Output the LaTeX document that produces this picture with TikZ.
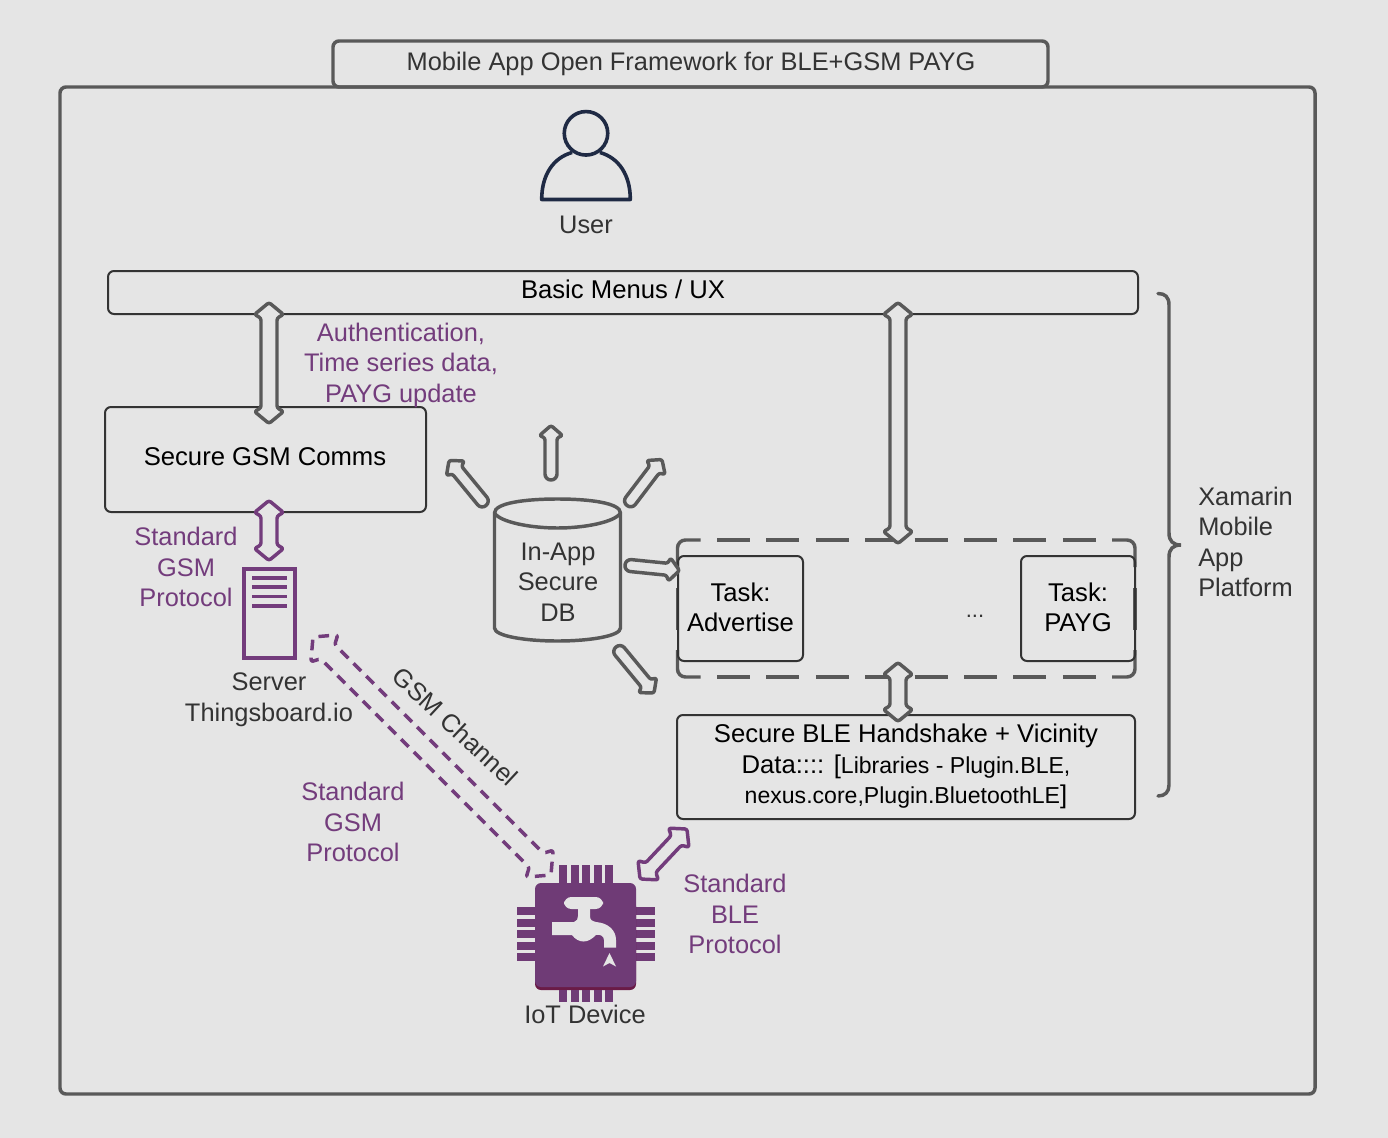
\documentclass[tikz,border=0pt]{standalone}
\usepackage{fontspec}
\setmainfont{Liberation Sans}
\usetikzlibrary{calc}
\definecolor{bgc}{HTML}{E5E5E5}
\definecolor{grayl}{HTML}{595959}
\definecolor{darkl}{HTML}{333333}
\definecolor{purp}{HTML}{733C7C}
\definecolor{chip}{HTML}{6F3B76}
\definecolor{chipd}{HTML}{6A1B47}
\definecolor{navy}{HTML}{1F2A44}
\tikzset{
  px/.style={x=0.75pt,y=-0.75pt},
  bx/.style={draw=#1,rounded corners=4.5pt,inner sep=0pt,outer sep=0pt,anchor=north west},
  thick box/.style={bx=grayl,line width=2.6pt},
  thin box/.style={bx=darkl,line width=1.5pt},
  tx/.style={font=\fontsize{19.05}{22.9}\selectfont,align=center,text=#1,inner sep=0pt},
  tx/.default=darkl,
  txb/.style={font=\fontsize{19.25}{22.9}\selectfont,align=center,text=black,inner sep=0pt},
  arrowline/.style={draw=#1,fill=bgc,line width=2.6pt,line join=round},
  pin/.style={fill=chip,draw=none},
}
% #1 name, #2 style, #3 x1, #4 y1, #5 x2, #6 y2, #7 half shaft, #8 half head, #9 head length
\newcommand{\doublearrow}[9]{%
  \coordinate (#1s) at (#3,#4); \coordinate (#1e) at (#5,#6);
  \pgfmathsetmacro{\arang}{atan2(#4-#6,#5-#3)}%
  \pgfmathsetmacro{\arlen}{veclen(#5-#3,#6-#4)}%
  \begin{scope}[shift={(#1s)},rotate=\arang,x=0.75pt,y=0.75pt]
  \draw[arrowline=#2,#1style,rounded corners=1.7pt] (\arlen/2,-#7) -- (\arlen-#9*1.3,-#7) -- (\arlen-#9,-#8) -- (\arlen,0)
    -- (\arlen-#9,#8) -- (\arlen-#9*1.3,#7) -- (#9*1.3,#7) -- (#9,#8) -- (0,0) -- (#9,-#8) -- (#9*1.3,-#7) -- cycle;
  \end{scope}}
\newcommand{\singlearrow}[5]{%
  \coordinate (#1s) at (#2,#3); \coordinate (#1e) at (#4,#5);
  \pgfmathsetmacro{\arang}{atan2(#3-#5,#4-#2)}%
  \pgfmathsetmacro{\arlen}{veclen(#4-#2,#5-#3)}%
  \begin{scope}[shift={(#1s)},rotate=\arang,x=0.75pt,y=0.75pt]
  \draw[arrowline=grayl] (\arlen/2,-6) [rounded corners=1.6pt] -- (\arlen-12.5,-6) -- (\arlen-10,-11.5) -- (\arlen,0)
    -- (\arlen-10,11.5) -- (\arlen-12.5,6) [rounded corners=4.4pt] -- (0,6) -- (0,-6) -- cycle;
  \end{scope}}
\tikzset{a1style/.style={},a2style/.style={},a3style/.style={},a4style/.style={},a5style/.style={},
  a6style/.style={dash pattern=on 8pt off 5.5pt,rounded corners=3pt}}
\begin{document}
\begin{tikzpicture}[px]
\useasboundingbox (0,0) rectangle (1388,1138);
\fill[bgc] (0,0) rectangle (1388,1138);
% frames
\node[thick box,minimum width=1255*.75pt,minimum height=1007*.75pt] (outer) at (60,87) {};
\node[thick box,minimum width=715*.75pt,minimum height=46*.75pt] (titlebox) at (333,41) {};
\node[tx] (title) at (691,64) {Mobile App Open Framework for BLE+GSM PAYG};
% user
\draw[navy,line width=2.7pt,line join=round] (572,152.5) .. controls (553,158) and (541.7,175) .. (541.7,199.5) -- (630.3,199.5) .. controls (630.3,175) and (619,158) .. (600,152.5);
\node[draw=navy,line width=2.7pt,circle,minimum size=43.5*.75pt,inner sep=0pt,outer sep=0pt] (userhead) at (586,133.3) {};
\node[tx] (user) at (586,224.5) {User};
% main boxes
\node[thin box,minimum width=1030*.75pt,minimum height=43*.75pt] (menus) at (108,271) {};
\node[txb] (menust) at (623,289.5) {Basic Menus / UX};
\node[thin box,minimum width=321*.75pt,minimum height=105*.75pt] (gsm) at (105,407) {};
\node[txb] (gsmt) at (265,457) {Secure GSM Comms};
\node[tx=purp] (auth) at (401,365) {Authentication,\\Time series data,\\PAYG update};
\node[tx=purp] (stdgsm) at (186,567) {Standard\\GSM\\Protocol};
% dashed group
\begin{scope}[grayl,line width=2.6pt]
\foreach \yy in {540,677} \foreach \xx in {717,766.4,815.8,865.2,914.6,964,1013.4,1062.8} \draw (\xx,\yy) -- (\xx+33,\yy);
\draw[rounded corners=6pt] (700.7,540) -- (677.5,540) -- (677.5,567);
\draw[rounded corners=6pt] (700.7,677) -- (677.5,677) -- (677.5,650);
\draw[rounded corners=6pt] (1112,540) -- (1135,540) -- (1135,567);
\draw[rounded corners=6pt] (1112,677) -- (1135,677) -- (1135,650);
\draw (677.5,588) -- (677.5,630);
\draw (1135,588) -- (1135,630);
\end{scope}
\node[thin box,minimum width=125*.75pt,minimum height=105*.75pt] (adv) at (678,556) {};
\node[txb] (advt) at (740.5,607.5) {Task:\\Advertise};
\node[thin box,minimum width=114*.75pt,minimum height=105*.75pt] (payg) at (1021,556) {};
\node[txb] (paygt) at (1078,607.5) {Task:\\PAYG};
\node[tx=darkl,font=\fontsize{16.5}{18}\selectfont] (dots) at (975,616) {...};
\node[thin box,minimum width=458*.75pt,minimum height=104*.75pt] (ble) at (677,715) {};
\node[txb] (blet) at (906,766.5) {Secure BLE Handshake + Vicinity\\Data:::: [{\fontsize{17.3}{22.9}\selectfont Libraries - Plugin.BLE,}\\{\fontsize{17.3}{22.9}\selectfont nexus.core,Plugin.BluetoothLE}]};
% brace
\draw[grayl,line width=2.6pt,line cap=round] (1158,293.5) .. controls (1165,293.5) and (1169,297) .. (1169,305)
  -- (1169,533) .. controls (1169,541) and (1173,545) .. (1181,545)
  .. controls (1173,545) and (1169,549) .. (1169,557)
  -- (1169,785) .. controls (1169,792) and (1165,796) .. (1158,796);
\node[tx,align=left,anchor=west] (xam) at (1198,542) {Xamarin\\Mobile\\App\\Platform};
% database
\draw[grayl,line width=2.6pt,fill=bgc] (494.5,513) .. controls (494.5,503) and (525,499) .. (557.5,499)
  .. controls (590,499) and (620.5,503) .. (620.5,513) -- (620.5,628)
  .. controls (620.5,636) and (590,641) .. (557.5,641) .. controls (525,641) and (494.5,636) .. (494.5,628) -- cycle;
\draw[grayl,line width=2.6pt] (494.5,513) .. controls (500,522) and (530,528) .. (557.5,528) .. controls (585,528) and (615,522) .. (620.5,513);
\node[tx] (db) at (558,582) {In-App\\Secure\\DB};
% block arrows
\doublearrow{a1}{grayl}{269}{302.5}{269}{423.5}{8}{14.5}{12}
\doublearrow{a2}{grayl}{898}{302.5}{898}{543.5}{8}{14.5}{12}
\doublearrow{a3}{purp}{269}{500.5}{269}{560.5}{8}{14.5}{12}
\doublearrow{a4}{grayl}{898}{662.5}{898}{721.5}{8}{14.5}{12}
\doublearrow{a5}{purp}{640}{879}{687}{829}{7}{14}{12}
\doublearrow{a6}{purp}{313}{637}{551}{875}{10}{19}{16}
\singlearrow{s1}{551}{480}{551}{425.5}
\singlearrow{s2}{486}{505.5}{449}{460.5}
\singlearrow{s3}{627}{505.5}{662}{459.5}
\singlearrow{s4}{625}{565}{679.5}{570.5}
\singlearrow{s5}{616}{647}{654}{693}
% server
\node[draw=purp,line width=2.6pt,minimum width=51*.75pt,minimum height=89*.75pt,inner sep=0pt,outer sep=0pt,anchor=north west] (server) at (244,569) {};
\foreach \yy in {578,587,596.5,606} \draw[purp,line width=2.4pt] (252,\yy) -- (287,\yy);
\node[tx] (servert) at (269,699.5) {Server\\Thingsboard.io};
% labels
\node[tx,rotate=-43] (chan) at (455.5,726.5) {GSM Channel};
\node[tx=purp] (stdgsm2) at (353,822) {Standard\\GSM\\Protocol};
\node[tx=purp] (stdble) at (735,914) {Standard\\BLE\\Protocol};
\node[tx] (iot) at (585,1014) {IoT Device};
% chip
\foreach \xx in {559,570.5,582,593.5,605} \fill[pin] (\xx,865) rectangle (\xx+8,1002);
\foreach \yy in {907,918.5,930,941.5,953} \fill[pin] (517,\yy) rectangle (655,\yy+8);
\fill[chipd,rounded corners=4.5pt] (535,900) rectangle (636,990);
\fill[chip,rounded corners=4.5pt] (535,883) rectangle (636,987);
\foreach \xx in {559,570.5,582,593.5,605} \fill[pin] (\xx,990) rectangle (\xx+8,1002);
% tap
\fill[bgc,rounded corners=5.5pt] (564,897) rectangle (603,909);
\fill[bgc] (578,905) -- (590,905) -- (590,916) .. controls (590,920) and (592,921) .. (596,922)
  .. controls (608,923) and (616,930) .. (616,940) -- (616,947.5) -- (604,947.5) -- (604,940)
  .. controls (604,936) and (600,934) .. (596,935) .. controls (592,939) and (588,941.5) .. (583.5,941.5)
  .. controls (579,941.5) and (575,939) .. (572,935) -- (552,935) -- (552,922) -- (574,922)
  .. controls (577,921) and (578,919) .. (578,916) -- cycle;
\fill[bgc] (609.5,953) -- (616,966.5) -- (609.5,963) -- (603,966.5) -- cycle;
\end{tikzpicture}
\end{document}
